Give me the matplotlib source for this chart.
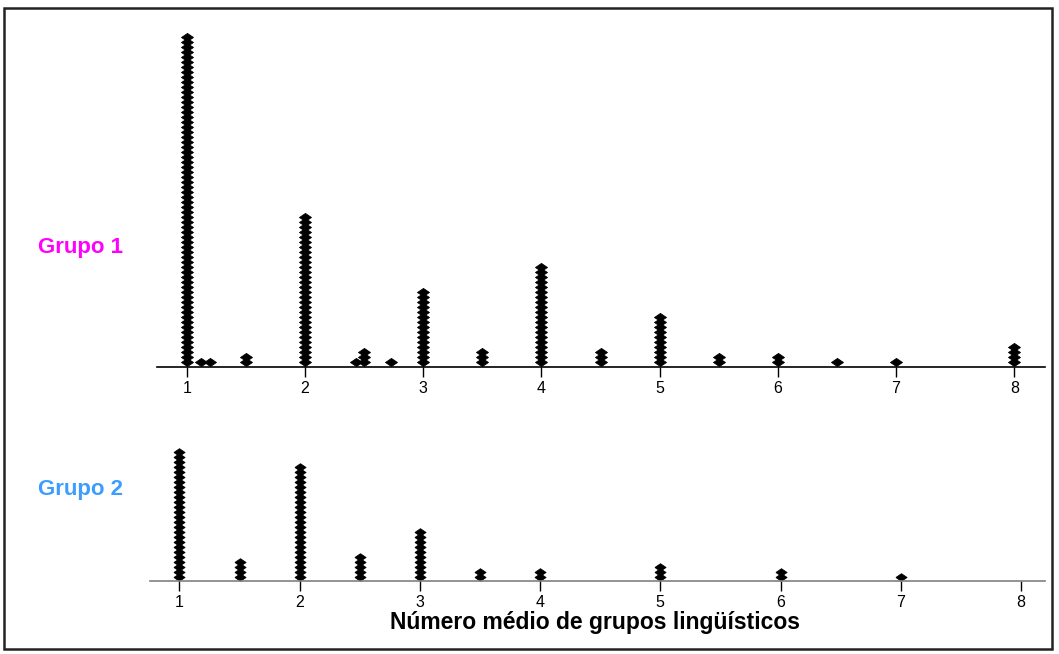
import matplotlib
matplotlib.use("Agg")
import matplotlib.pyplot as plt
from matplotlib.patches import Rectangle

plt.rcParams['font.family'] = ['Liberation Sans', 'DejaVu Sans']

# ---- data ----
g1_values = [1, 1.12, 1.2, 1.5, 2, 2.43, 2.5, 2.73, 3, 3.5, 4, 4.5, 5, 5.5, 6, 6.5, 7, 8]
g1_counts = [66, 1, 1, 2, 30, 1, 3, 1, 15, 3, 20, 3, 10, 2, 2, 1, 1, 4]
g2_values = [1, 1.5, 2, 2.5, 3, 3.5, 4, 5, 6, 7]
g2_counts = [26, 4, 23, 5, 10, 2, 2, 3, 2, 1]
ticks = [1, 2, 3, 4, 5, 6, 7, 8]
tick_labels = ["1", "2", "3", "4", "5", "6", "7", "8"]
group_labels = ["Grupo 1", "Grupo 2"]
group_colors = ["#FF00FF", "#3C9DFF"]
xlabel = "Número médio de grupos lingüísticos"

W, H = 1059, 654
fig = plt.figure(figsize=(W / 100, H / 100), dpi=100)

def px_axes(left, right, top, bottom):
    return fig.add_axes([left / W, 1 - bottom / H, (right - left) / W, (bottom - top) / H])

diamond = [(-1, 0), (0, 0.68), (1, 0), (0, -0.68), (-1, 0)]

def stack(ax, values, counts, y0, step, ms):
    xs, ys = [], []
    for v, c in zip(values, counts):
        for i in range(c):
            xs.append(v)
            ys.append(y0 + step * i)
    ax.plot(xs, ys, linestyle="none", marker=diamond, markersize=ms,
            color="black", markeredgecolor="black", markeredgewidth=0.6)

def style(ax, xlim, height, spine_color):
    ax.set_xlim(*xlim)
    ax.set_ylim(0, height)
    for s in ["top", "left", "right"]:
        ax.spines[s].set_visible(False)
    ax.spines["bottom"].set_color(spine_color)
    ax.spines["bottom"].set_linewidth(1.2)
    ax.set_yticks([])
    ax.set_xticks(ticks)
    ax.set_xticklabels(tick_labels, fontsize=11.5)
    ax.tick_params(axis="x", direction="out", length=7, width=1, color="black", pad=3)
    ax.patch.set_alpha(0)

# group 1 axes
ax1 = px_axes(157, 1045, 25, 367)
style(ax1, (0.748, 8.26), 342, "black")
stack(ax1, g1_values, g1_counts, 5.5, 5.0, 8.6)

# group 2 axes
ax2 = px_axes(150, 1045, 440, 581)
style(ax2, (0.755, 8.2), 141, "#808080")
stack(ax2, g2_values, g2_counts, 4.5, 5.0, 8.0)

fig.text(38 / W, 1 - 248 / H, group_labels[0], color=group_colors[0],
         fontsize=16, fontweight="bold", ha="left", va="center")
fig.text(38 / W, 1 - 489 / H, group_labels[1], color=group_colors[1],
         fontsize=16, fontweight="bold", ha="left", va="center")
fig.text(595 / W, 1 - 622 / H, xlabel, fontsize=16.5, fontweight="bold",
         ha="center", va="center")

fig.patches.append(Rectangle((4 / W, 1 - 649 / H), (1052 - 4) / W, (649 - 8) / H,
                             transform=fig.transFigure, fill=False,
                             edgecolor="#222222", linewidth=1.8))

fig.savefig("out.png", dpi=100)
